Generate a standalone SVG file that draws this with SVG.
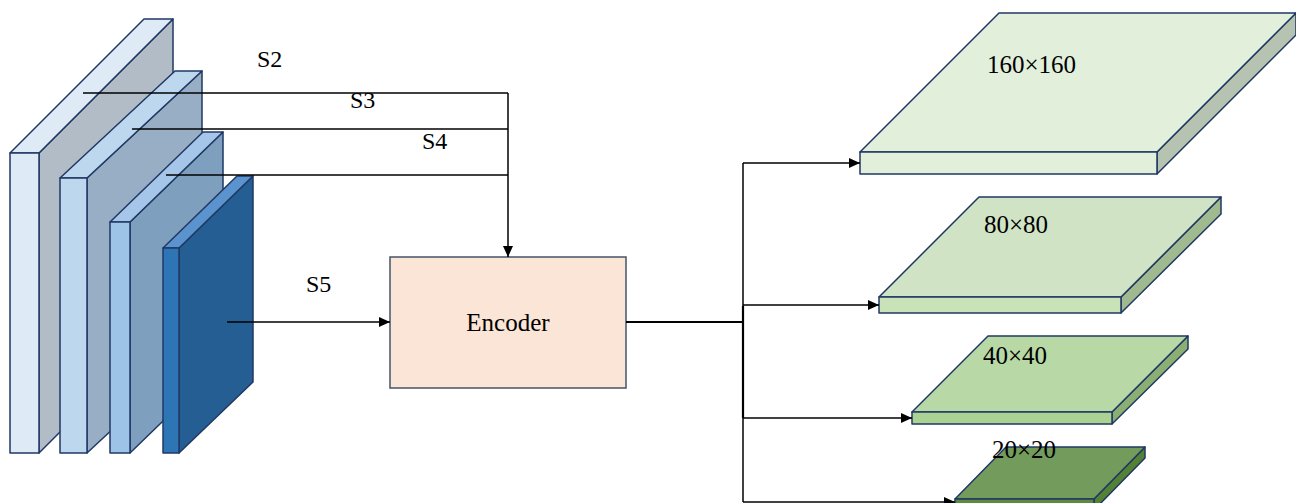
<svg xmlns="http://www.w3.org/2000/svg" width="1296" height="503" viewBox="0 0 1296 503">
<defs>
<marker id="arr" markerUnits="userSpaceOnUse" markerWidth="12" markerHeight="10" refX="11" refY="5" orient="auto">
<path d="M0,0 L11,5 L0,10 z" fill="#000"/>
</marker>
<style>
.s{stroke:#203864;stroke-width:1.5;stroke-linejoin:round}
.t{font-family:"Liberation Serif","Times New Roman",serif;font-size:24px;fill:#000}
.n{font-size:25px}
.c{fill:none;stroke:#000;stroke-width:1.5}
.cb{fill:none;stroke:#000;stroke-width:2.2}
</style>
</defs>
<rect width="1296" height="503" fill="#fff"/>

<g id="slab-s2">
<polygon class="s" points="39,153 173,19 173,319 39,453" fill="#b1bcc6"/>
<polygon class="s" points="10,153 39,153 173,19 144,19" fill="#deebf7"/>
<rect class="s" x="10" y="153" width="29" height="300" fill="#deebf7"/>
</g>
<g id="slab-s3">
<polygon class="s" points="87,178 202,71 202,346 87,453" fill="#97aec4"/>
<polygon class="s" points="60,178 87,178 202,71 175,71" fill="#bdd7ee"/>
<rect class="s" x="60" y="178" width="27" height="275" fill="#bdd7ee"/>
</g>
<g id="slab-s4">
<polygon class="s" points="130,222 223,132 223,363 130,453" fill="#7f9fbe"/>
<polygon class="s" points="110,222 130,222 223,132 203,132" fill="#a5c6e8"/>
<rect class="s" x="110" y="222" width="20" height="231" fill="#9dc3e6"/>
</g>
<g id="slab-s5">
<polygon class="s" points="179,248 253,176 253,382 179,453" fill="#255e92"/>
<polygon class="s" points="163,248 179,248 253,176 237,176" fill="#5b93cf"/>
<rect class="s" x="163" y="248" width="16" height="205" fill="#2e75b6"/>
</g>

<g id="encoder">
<rect x="390" y="257" width="236" height="131" fill="#fbe5d6" stroke="#44546a" stroke-width="1.5"/>
<text class="t n" x="508" y="331" text-anchor="middle">Encoder</text>
</g>

<g id="out-160">
<polygon class="s" points="1157,152 1296,13 1296,35 1157,174" fill="#b5c3b0"/>
<polygon class="s" points="860,152 1157,152 1296,13 999,13" fill="#e2efda"/>
<rect class="s" x="860" y="152" width="297" height="22" fill="#e2efda"/>
<text class="t n" x="987" y="73">160×160</text>
</g>
<g id="out-80">
<polygon class="s" points="1121,297 1221,197 1221,214 1121,313" fill="#a0b98f"/>
<polygon class="s" points="879,297 1121,297 1221,197 979,197" fill="#d0e4c5"/>
<rect class="s" x="879" y="297" width="242" height="16" fill="#c9e2b8"/>
<text class="t n" x="984" y="233">80×80</text>
</g>
<g id="out-40">
<polygon class="s" points="1112,412 1188,336 1188,349 1112,424" fill="#8bae72"/>
<polygon class="s" points="912,412 1112,412 1188,336 988,336" fill="#b8d8a6"/>
<rect class="s" x="912" y="412" width="200" height="12" fill="#acd293"/>
<text class="t n" x="983" y="364">40×40</text>
</g>
<g id="out-20">
<polygon class="s" points="1094,499 1145,447 1145,458 1094,510" fill="#548235"/>
<polygon class="s" points="955,499 1094,499 1145,447 1006,447" fill="#739b5c"/>
<rect class="s" x="955" y="499" width="139" height="10" fill="#5e8a40"/>
<text class="t n" x="992" y="458">20×20</text>
</g>

<g id="connectors">
<polyline class="c" points="83,93 508,93"/>
<polyline class="c" points="132,129 508,129"/>
<polyline class="c" points="166,175 508,175"/>
<line class="c" x1="508" y1="93" x2="508" y2="257" marker-end="url(#arr)"/>
<line class="c" x1="227" y1="322" x2="390" y2="322" marker-end="url(#arr)"/>
<line class="cb" x1="626" y1="322" x2="743" y2="322"/>
<line class="c" x1="743" y1="163" x2="743" y2="502"/>
<line class="cb" x1="743" y1="306" x2="743" y2="418"/>
<line class="c" x1="743" y1="163" x2="860" y2="163" marker-end="url(#arr)"/>
<line class="c" x1="743" y1="305" x2="879" y2="305" marker-end="url(#arr)"/>
<line class="c" x1="743" y1="418" x2="912" y2="418" marker-end="url(#arr)"/>
<line class="c" x1="743" y1="502" x2="955" y2="502" marker-end="url(#arr)"/>
<text class="t" x="257" y="67">S2</text>
<text class="t" x="350" y="108">S3</text>
<text class="t" x="422" y="149">S4</text>
<text class="t" x="306" y="292">S5</text>
</g>
</svg>
